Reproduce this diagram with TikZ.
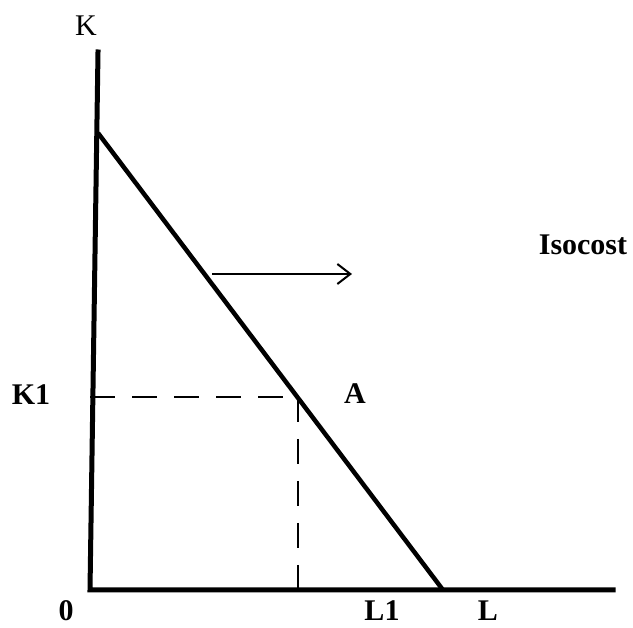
\documentclass[tikz,border=0pt]{standalone}
\usepackage{fontspec}
\setmainfont{Liberation Serif}
\usetikzlibrary{arrows.meta}
\tikzset{
  axisline/.style={line width=5pt, line cap=rect},
  costline/.style={line width=4.5pt},
  guide/.style={line width=1.5pt, dash pattern=on 25pt off 17pt},
  shiftarrow/.style={line width=2pt, -{Straight Barb[length=13pt,width=20pt,line width=2pt]}},
  lbl/.style={font=\fontsize{30}{36}\selectfont, anchor=base, inner sep=0pt},
  blbl/.style={lbl, font=\fontsize{30}{36}\selectfont\bfseries},
}
\begin{document}
\begin{tikzpicture}[x=1pt,y=-1pt]
\useasboundingbox (0,0) rectangle (633,628);
\coordinate (ktop) at (98,52);
\coordinate (origin) at (90,590);
\coordinate (lend) at (613,590);
\coordinate (kint) at (98,133);
\coordinate (lint) at (443,590);
\coordinate (k1) at (90,397);
\coordinate (pA) at (298,397);
\coordinate (l1) at (298,590);
\coordinate (arrs) at (212,274);
\coordinate (arre) at (352,274);
\draw[axisline] (ktop) -- (origin) -- (lend);
\draw[costline] (kint) -- (lint);
\draw[guide] (k1) -- (pA);
\draw[guide] (pA) -- (l1);
\draw[shiftarrow] (arrs) -- (arre);
\node[lbl] (K) at (86,36) {K};
\node[blbl] (K1) at (31,405) {K1};
\node[blbl] (A) at (355,404) {A};
\node[blbl] (iso) at (583,255) {Isocost};
\node[blbl] (zero) at (66,621) {0};
\node[blbl] (L1) at (382,621) {L1};
\node[blbl] (L) at (488,621) {L};
\end{tikzpicture}
\end{document}
